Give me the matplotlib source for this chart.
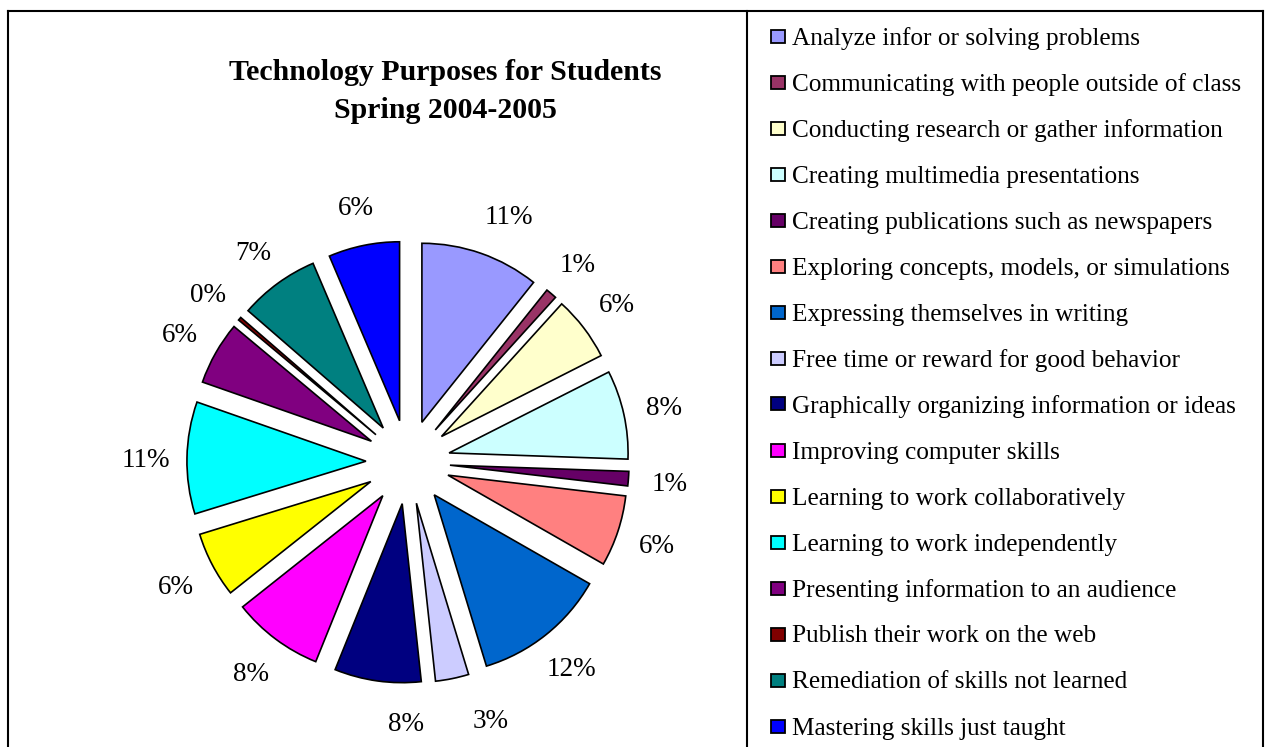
import numpy as np
import matplotlib
matplotlib.use('Agg')
import matplotlib.pyplot as plt
from matplotlib.patches import Rectangle
from matplotlib.lines import Line2D

plt.rcParams['font.family'] = 'Liberation Serif'

# ── Data ──────────────────────────────────────────────────────────────────────
categories = [
    'Analyze infor or solving problems',
    'Communicating with people outside of class',
    'Conducting research or gather information',
    'Creating multimedia presentations',
    'Creating publications such as newspapers',
    'Exploring concepts, models, or simulations',
    'Expressing themselves in writing',
    'Free time or reward for good behavior',
    'Graphically organizing information or ideas',
    'Improving computer skills',
    'Learning to work collaboratively',
    'Learning to work independently',
    'Presenting information to an audience',
    'Publish their work on the web',
    'Remediation of skills not learned',
    'Mastering skills just taught',
]
shares = [10.7, 1.0, 5.8, 8.0, 1.3, 6.4, 12.0, 3.0, 7.8, 8.2, 5.9, 10.1, 5.7, 0.3, 7.2, 6.4]
pct_labels = ['11%', '1%', '6%', '8%', '1%', '6%', '12%', '3%',
              '8%', '8%', '6%', '11%', '6%', '0%', '7%', '6%']
colors = ['#9999FF', '#993366', '#FFFFCC', '#CCFFFF', '#660066', '#FF8080',
          '#0066CC', '#CCCCFF', '#000080', '#FF00FF', '#FFFF00', '#00FFFF',
          '#800080', '#800000', '#008080', '#0000FF']

W, H = 1265, 747
fig = plt.figure(figsize=(W / 100, H / 100), dpi=100)

# ── Pie ───────────────────────────────────────────────────────────────────────
R_PX = 179          # pie radius in pixels
CX, CY = 408, 462   # pie centre in pixels (from top)
L = 1.7
half = L * R_PX
ax = fig.add_axes([(CX - half) / W, (H - CY - half) / H, 2 * half / W, 2 * half / H])
wedges, texts = ax.pie(shares, colors=colors, labels=pct_labels,
                       startangle=90, counterclock=False,
                       explode=[0.235] * len(shares), labeldistance=1.23,
                       wedgeprops=dict(edgecolor='black', linewidth=1.2),
                       textprops=dict(fontsize=19.5))
for t in texts:
    t.set_ha('center')
    t.set_va('center_baseline')
# a few labels sit slightly off their slice centre in the original
for i, dx in [(0, 0.08), (7, 0.17), (8, 0.19)]:
    x, y = texts[i].get_position()
    texts[i].set_position((x + dx, y))
ax.set_xlim(-L, L)
ax.set_ylim(-L, L)
ax.set_aspect('equal')
ax.axis('off')

# ── Title ─────────────────────────────────────────────────────────────────────
TX = 445
fig.text(TX / W, 1 - 80 / H, 'Technology Purposes for Students', ha='center',
         va='baseline', fontsize=21.5, fontweight='bold')
fig.text(TX / W, 1 - 118 / H, 'Spring 2004-2005', ha='center',
         va='baseline', fontsize=21.5, fontweight='bold')

# ── Legend (manual, one row per category) ─────────────────────────────────────
row0, row_step = 36, 46
for i, (lab, col) in enumerate(zip(categories, colors)):
    yc = row0 + i * row_step
    fig.patches.append(Rectangle((771 / W, 1 - (yc + 6.5) / H), 14 / W, 13 / H,
                                 transform=fig.transFigure, facecolor=col,
                                 edgecolor='black', linewidth=1.3))
    fig.text(792 / W, 1 - (yc + 8.5) / H, lab, ha='left', va='baseline',
             fontsize=18.2)

# ── Frame and divider ─────────────────────────────────────────────────────────
frame_kw = dict(transform=fig.transFigure, color='black', linewidth=1.5)
fig.add_artist(Line2D([8 / W, 8 / W], [0, 1 - 11 / H], **frame_kw))
fig.add_artist(Line2D([1263 / W, 1263 / W], [0, 1 - 11 / H], **frame_kw))
fig.add_artist(Line2D([8 / W, 1263 / W], [1 - 11 / H, 1 - 11 / H], **frame_kw))
fig.add_artist(Line2D([747 / W, 747 / W], [0, 1 - 11 / H], **frame_kw))

fig.savefig('out.png', dpi=100)
